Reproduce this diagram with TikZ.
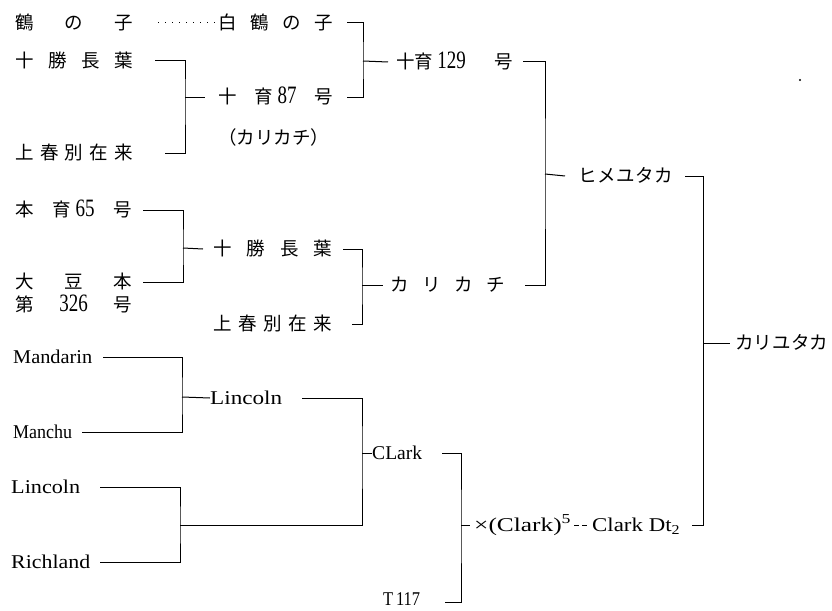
\documentclass[tikz,border=0pt]{standalone}
\usepackage{fontspec}
\usepackage{graphicx}
\setmainfont{Liberation Serif}
\newfontfamily\jp{Noto Sans CJK JP}
\newcommand\sprd[2]{\makebox[#1][s]{#2}}
\newcommand\dg[1]{{\rmfamily\fontsize{25}{25}\selectfont\scalebox{0.76}[1]{#1}}}
\newcommand\fitw[2]{\resizebox{#1pt}{\height}{#2}}
\tikzset{
  jpl/.style={inner sep=0pt, anchor=west, font=\jp\fontsize{18.5}{20}\selectfont, text height=15.2pt, text depth=1.4pt},
  latl/.style={inner sep=0pt, anchor=west, font=\fontsize{19.5}{22}\selectfont, text height=13.7pt, text depth=0.8pt},
  link/.style={draw=black, line width=1pt},
  dotline/.style={draw=black, line width=1pt, dash pattern=on 1pt off 6pt},
  dashline/.style={draw=black, line width=1pt, dash pattern=on 5pt off 3pt}
}
\begin{document}
\begin{tikzpicture}[x=1pt,y=-1pt]
\useasboundingbox (0,0) rectangle (832,610);
% top block
\node[jpl] (tsuru) at (15,23) {\sprd{118pt}{鶴\hfill の\hfill 子}};
\node[jpl] (hakutsuru) at (218,23) {\sprd{115pt}{白\hfill 鶴\hfill の\hfill 子}};
\node[jpl] (tokachiA) at (15,61) {\sprd{118pt}{十\hfill 勝\hfill 長\hfill 葉}};
\node[jpl] (jk87) at (218,97) {\sprd{115pt}{十\hfill 育 \dg{87}\hfill 号}};
\node[jpl] (karikachiP) at (218,138) {\sprd{104pt}{（\hfill カ\hfill リ\hfill カ\hfill チ\hfill ）}};
\node[jpl] (kamiA) at (15,153) {\sprd{118pt}{上\hfill 春\hfill 別\hfill 在\hfill 来}};
\node[jpl] (jk129) at (396,62) {\sprd{117pt}{十育 \dg{129}\hfill 号}};
\node[jpl] (hime) at (578,176) {\sprd{95pt}{ヒ\hfill メ\hfill ユ\hfill タ\hfill カ}};
% middle block
\node[jpl] (hon65) at (15,210) {\sprd{117pt}{本\hfill 育 \dg{65}\hfill 号}};
\node[jpl] (daizu) at (15,282) {\sprd{117pt}{大\hfill 豆\hfill 本}};
\node[jpl] (dai326) at (15,305) {\sprd{117pt}{第\hfill \dg{326}\hfill 号}};
\node[jpl] (tokachiB) at (213,249) {\sprd{119pt}{十\hfill 勝\hfill 長\hfill 葉}};
\node[jpl] (kamiB) at (213,324) {\sprd{119pt}{上\hfill 春\hfill 別\hfill 在\hfill 来}};
\node[jpl] (karikachi) at (390,285) {\sprd{115pt}{カ\hfill リ\hfill カ\hfill チ}};
\node[jpl] (kariyutaka) at (735,343) {\sprd{93pt}{カ\hfill リ\hfill ユ\hfill タ\hfill カ}};
% bottom block
\node[latl] (mandarin) at (13,357) {\fitw{79}{Mandarin}};
\node[latl] (manchu) at (13,432) {\fitw{59}{Manchu}};
\node[latl] (lincolnA) at (210,398) {\fitw{72}{Lincoln}};
\node[latl] (lincolnB) at (11,487) {\fitw{69}{Lincoln}};
\node[latl] (richland) at (11,562) {\fitw{79}{Richland}};
\node[latl] (clark) at (372,453) {\fitw{50}{CLark}};
\node[latl] (t117) at (383,599) {\fitw{37}{T\,117}};
\node[latl] (xclark) at (474,525) {\fitw{97}{×(Clark)\textsuperscript{5}}};
\node[latl] (clarkdt) at (592,525) {\fitw{88}{Clark Dt\textsubscript{2}}};
% junctions
\coordinate (b1) at (363,61);
\coordinate (b2) at (185,97);
\coordinate (b3) at (545,174);
\coordinate (b4) at (703,343);
\coordinate (b5) at (183,248);
\coordinate (b6) at (362,285);
\coordinate (b7) at (182,397);
\coordinate (b8) at (180,525);
\coordinate (b9) at (362,453);
\coordinate (b10) at (461,525);
% connectors
\draw[dotline] ([xshift=25pt]tsuru.east) -- ([xshift=-1pt]hakutsuru.west);
\draw[link] ([xshift=14pt]hakutsuru.east) -| (b1) |- ([xshift=14pt]jk87.east);
\draw[link] (b1) -- ([xshift=-8pt]jk129.west);
\draw[link] ([xshift=22pt]tokachiA.east) -| (b2) |- ([xshift=32pt]kamiA.east);
\draw[link] (b2) -- ([xshift=-13pt]jk87.west);
\draw[link] ([xshift=10pt]jk129.east) -| (b3) |- ([xshift=20pt]karikachi.east);
\draw[link] (b3) -- ([xshift=-13pt]hime.west);
\draw[link] ([xshift=12pt]hime.east) -| (b4) |- ([xshift=12pt]clarkdt.east);
\draw[link] (b4) -- ([xshift=-5pt]kariyutaka.west);
\draw[link] ([xshift=11pt]hon65.east) -| (b5) |- ([xshift=11pt]daizu.east);
\draw[link] (b5) -- ([xshift=-10pt]tokachiB.west);
\draw[link] ([xshift=11pt]tokachiB.east) -| (b6) |- ([xshift=20pt]kamiB.east);
\draw[link] (b6) -- ([xshift=-7pt]karikachi.west);
\draw[link] ([xshift=11pt]mandarin.east) -| (b7) |- ([xshift=10pt]manchu.east);
\draw[link] (b7) -- (lincolnA.west);
\draw[link] ([xshift=20pt]lincolnB.east) -| (b8) |- ([xshift=10pt]richland.east);
\draw[link] ([xshift=20pt]lincolnA.east) -| (b9) |- (b8);
\draw[link] (b9) -- (clark.west);
\draw[link] ([xshift=20pt]clark.east) -| (b10) |- ([xshift=25pt,yshift=-3pt]t117.east);
\draw[link] (b10) -- ([xshift=-4pt]xclark.west);
\draw[dashline] ([xshift=3pt]xclark.east) -- ([xshift=-3pt]clarkdt.west);
\fill (800,80) circle (1.2);
\end{tikzpicture}
\end{document}
